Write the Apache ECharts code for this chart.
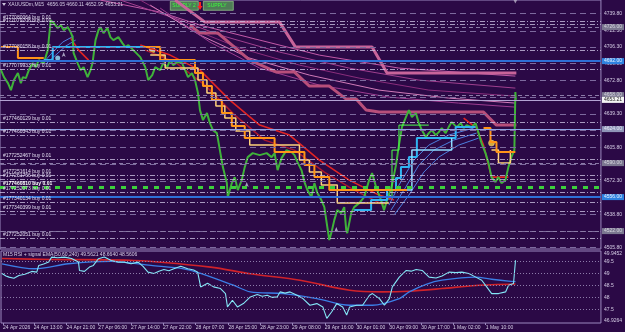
<!DOCTYPE html>
<html>
<head>
<meta charset="utf-8">
<title>XAUUSDm M15</title>
<script src="https://cdn.jsdelivr.net/npm/echarts@6/dist/echarts.min.js"></script>
<style>
  html, body { margin: 0; padding: 0; background: #2b0946; }
  #chart { width: 625px; height: 332px; }
</style>
</head>
<body>
<div id="chart"></div>
<script>
// ---- data (bar index, price) ----
var priceData = [
  [0,4683],[3,4676],[7,4670],[10,4663],[13,4673],[17,4680],[20,4670],[22,4676],[25,4675],[28,4683],
  [32,4690],[35,4686],[38,4693],[43,4690],[47,4703],[49,4723],[50,4733],[53,4730],[57,4725],[60,4728],
  [63,4723],[67,4726],[70,4721],[72,4716],[73,4700],[77,4690],[80,4683],[83,4686],[87,4676],[90,4683],
  [92,4690],[95,4713],[98,4723],[100,4726],[103,4720],[107,4725],[110,4716],[113,4713],[118,4716],[122,4710],
  [125,4706],[128,4708],[133,4703],[140,4696],[145,4686],[148,4673],[152,4678],[155,4686],[160,4683],[163,4690],
  [167,4686],[170,4693],[173,4688],[177,4691],[182,4690],[185,4683],[188,4676],[192,4680],[195,4673],[198,4660],
  [200,4643],[203,4633],[207,4640],[210,4630],[213,4623],[217,4620],[220,4603],[223,4586],[227,4570],[228,4556],
  [232,4570],[235,4576],[238,4563],[242,4573],[245,4586],[248,4596],[253,4600],[260,4598],[267,4600],[272,4596],
  [275,4600],[278,4583],[282,4595],[287,4603],[292,4601],[295,4598],[298,4591],[302,4583],[305,4571],[308,4563],
  [312,4556],[315,4570],[318,4560],[322,4553],[325,4546],[328,4526],[330,4513],[332,4520],[335,4533],[338,4543],
  [342,4540],[345,4546],[347,4523],[348,4520],[352,4540],[355,4546],[360,4550],[365,4556],[370,4573],[373,4580],
  [377,4566],[382,4553],[385,4543],[388,4553],[393,4568],[397,4588],[400,4608],[403,4626],[407,4636],[410,4643],
  [413,4636],[417,4640],[420,4630],[423,4623],[427,4616],[430,4620],[433,4623],[437,4618],[440,4621],[443,4625],
  [447,4620],[450,4626],[453,4631],[458,4626],[462,4630],[465,4625],[468,4628],[473,4626],[477,4630],[480,4620],
  [483,4610],[487,4600],[490,4590],[493,4576],[497,4571],[500,4576],[503,4570],[507,4573],[510,4586],[513,4596],
  [516,4603],[517,4661],[517.5,4653.21]
];

var pinkA = [[175,4753],[205,4731],[280,4731],[296,4706],[373,4706],[388,4680],[518,4680]];
var pinkB = [[190,4728],[200,4720],[218,4720],[250,4693],[277,4681],[295,4681],[310,4667],[330,4667],
  [347,4654],[357,4654],[367,4643],[380,4641],[485,4641],[498,4628],[518,4628]];

var fanLines = [
  [[100,4753],[160,4741],[200,4728],[260,4713],[320,4698],[400,4685],[517,4677]],
  [[120,4753],[180,4733],[220,4718],[280,4701],[350,4685],[420,4673],[517,4665]],
  [[140,4753],[190,4725],[240,4705],[300,4688],[360,4675],[430,4663],[517,4657]],
  [[150,4748],[200,4718],[250,4695],[310,4678],[380,4663],[450,4655],[517,4650]],
  [[160,4745],[210,4711],[260,4685],[320,4668],[390,4656],[460,4650],[517,4646]]
];

var orangeSegs = [
  [[0,4706],[17,4706],[17,4695],[43,4695]],
  [[143,4706],[160,4706],[160,4693],[195,4693],[195,4680],[203,4680],[203,4667],[212,4667],[212,4653],
   [222,4653],[222,4640],[232,4640],[232,4627],[245,4627],[245,4615],[275,4615],[275,4601],[305,4601],
   [305,4588],[315,4588],[315,4576],[330,4576],[330,4563],[408,4563]],
  [[485,4625],[492,4625],[492,4611],[498,4611],[498,4601],[517,4601]]
];
var yellowSegs = [
  [[150,4698],[165,4698],[165,4685],[198,4685],[198,4673],[207,4673],[207,4660],[216,4660],[216,4647],
   [225,4647],[225,4635],[236,4635],[236,4622],[250,4622],[250,4608],[300,4608],[300,4593],[310,4593],
   [310,4581],[322,4581],[322,4568],[338,4568],[338,4550],[390,4550]],
  [[493,4603],[500,4603],[500,4590],[512,4590],[512,4603]]
];
var redSegs = [
  [[140,4708],[170,4698],[200,4683],[230,4653],[260,4628],[290,4618],[320,4593],[350,4573],[380,4558],[395,4553]],
  [[465,4635],[478,4625],[485,4608],[493,4576],[510,4576]],
  [[70,4715],[78,4703],[88,4693]]
];
var darkRedSegs = [
  [[145,4703],[175,4691],[205,4668],[235,4638],[265,4613],[295,4603],[325,4581],[355,4563],[385,4548]]
];
var cyanSegs = [
  [[43,4693],[52,4693],[52,4706],[143,4706]],
  [[355,4543],[372,4543],[372,4553],[388,4553],[388,4563],[397,4563],[397,4575],[402,4575],[402,4586],
   [410,4586],[410,4596],[418,4596],[418,4615],[457,4615],[457,4626],[477,4626]]
];
var lightCyanSegs = [
  [[405,4563],[413,4563],[413,4603],[453,4603],[453,4615]]
];
var blueFan = [
  [[390,4548],[400,4568],[415,4593],[430,4608],[450,4618],[475,4625]],
  [[392,4543],[405,4563],[420,4588],[435,4603],[455,4613],[478,4620]],
  [[395,4538],[410,4558],[425,4581],[440,4596],[460,4608],[480,4615]],
  [[43,4691],[52,4701],[62,4711],[73,4717]],
  [[45,4689],[55,4698],[65,4707],[75,4713]]
];
var limeSegs = [
  [[393,4556],[393,4603],[400,4603],[400,4628],[430,4628]]
];
var yellowDots = [[152,4703],[493,4610]];
var cyanDots = [[390,4556],[57,4695]];
var downArrows = [[163,4696]];
var upArrows = [[63,4701],[247,4571],[337,4526]];

// levels
var gridLevels = [4739.8,4722.3,4706.3,4689.8,4672.8,4656.05,4639.3,4622.55,4605.8,4589.05,4572.3,4555.55,4538.8,4522.05,4505.8];
var tickLabels = [4739.8,4722.3,4706.3,4689.8,4672.8,4639.3,4605.8,4572.3,4538.8,4505.8];
var greyTags = [4726, 4658, 4590, 4522];
var blueTags = [4692, 4556];
var lightTag = 4624;
var greenLevel = 4566;
var bidPrice = 4653.21;

var orderIds = ['#177080064','#177079708','#177080158','#177079933','#177460129','#177460343','#177252467',
  '#177251614','#177251766','#177460810','#177252073','#177340134','#177340399','#177252051'];
var orderPrices = [4732.1,4729.1,4703.1,4684.1,4631.1,4618.1,4594.1,4578.1,4574.1,4566,4561.1,4551.1,4542.1,4515.1];
var selectedOrder = '#177460810';

// RSI panel (bar index, value)
var rsiData = [
  [0,49.0],[4,48.9],[7,48.85],[12,48.8],[17,48.92],[23,48.97],[30,49.09],[35,49.06],[37,49.34],[42,49.4],
  [47,49.48],[50,49.69],[56,49.66],[63,49.69],[70,49.63],[77,49.48],[78,49.13],[83,49.09],[88,49.27],[92,49.34],
  [97,49.62],[103,49.69],[110,49.55],[117,49.48],[123,49.48],[130,49.41],[137,49.48],[142,49.3],[147,49.06],[153,49.0],
  [158,49.1],[163,49.17],[168,49.12],[173,49.2],[180,49.31],[187,49.2],[193,49.15],[197,49.06],[200,48.44],[207,48.59],
  [213,48.44],[220,48.37],[225,48.16],[227,47.6],[232,47.88],[237,47.6],[243,47.74],[250,48.02],[257,48.12],[262,48.05],
  [267,48.09],[272,48.0],[277,48.02],[280,48.23],[285,48.18],[290,48.23],[297,48.09],[303,47.95],[310,47.67],[317,47.74],
  [323,47.6],[327,47.12],[332,47.4],[337,47.74],[343,47.6],[347,47.26],[350,47.6],[357,47.67],[363,47.67],[370,48.09],
  [373,48.16],[380,47.95],[385,47.67],[390,47.95],[393,48.44],[400,48.85],[407,49.13],[412,49.1],[417,49.17],[423,49.13],
  [430,48.85],[437,48.81],[443,48.9],[450,49.06],[457,49.04],[463,49.06],[470,49.0],[477,48.85],[483,48.72],[488,48.44],
  [493,48.16],[500,48.16],[507,48.23],[510,48.51],[512,48.58],[515,48.58],[517,49.56]
];
var signalData = [[0,49.41],[33,49.2],[67,49.41],[110,49.51],[150,49.34],[183,49.2],[200,49.01],[233,48.51],
  [250,48.23],[283,48.16],[317,47.95],[350,47.67],[373,47.67],[400,47.95],[410,48.23],[427,48.55],[443,48.72],
  [477,48.85],[493,48.76],[510,48.68],[517,48.66]];
var slowData = [[0,49.63],[50,49.59],[133,49.55],[210,49.27],[250,48.99],[300,48.72],[350,48.3],[383,48.23],
  [410,48.26],[443,48.37],[477,48.5],[517,48.56]];
var rsiLevels = [49.5, 49, 48.5, 48, 47.5];
var rsiLabels = [46.9264, 47.5, 48, 48.5, 49, 49.5, 49.9452];

var timePos = [1,32,65,97,130,162,195,228,260,292,325,357,390,422,454,487];
var timeLabels = ['24 Apr 2026','24 Apr 13:00','24 Apr 21:00','27 Apr 06:00','27 Apr 14:00','27 Apr 22:00',
  '28 Apr 07:00','28 Apr 15:00','28 Apr 23:00','29 Apr 08:00','29 Apr 16:00','30 Apr 01:00','30 Apr 09:00',
  '30 Apr 17:00','1 May 02:00','1 May 10:00'];

var FONT = 'Liberation Sans';
var TXT = '#d6cee6';
var FRAME = '#9c89bf';

var chart = echarts.init(document.getElementById('chart'), null, { renderer: 'canvas' });

function lineSeries(name, data, color, width, extra) {
  var s = {
    name: name, type: 'line', xAxisIndex: 0, yAxisIndex: 0,
    data: data, showSymbol: false, symbol: 'none', silent: true,
    lineStyle: { color: color, width: width },
    animation: false
  };
  if (extra) Object.assign(s, extra);
  return s;
}
function segSeries(name, segs, color, width, extra) {
  return segs.map(function (seg, i) { return lineSeries(name + i, seg, color, width, extra); });
}

// horizontal levels as markLines
var levelLines = [];
gridLevels.forEach(function (p) {
  levelLines.push({ yAxis: p, lineStyle: { type: [6, 4], color: '#7d6a9e', width: 1 }, label: { show: false } });
});
greyTags.forEach(function (p) {
  levelLines.push({ yAxis: p, lineStyle: { type: [4, 3], color: '#8a7aa6', width: 1 },
    label: { show: true, position: 'end', formatter: p.toFixed(2), backgroundColor: '#7b7790', color: '#d8d8e0', padding: [1, 2, 0, 2], distance: 1 } });
});
orderIds.forEach(function (id, i) {
  var sel = id === selectedOrder;
  levelLines.push({ yAxis: orderPrices[i],
    lineStyle: { type: [5, 2, 1, 2], color: '#c9bfe0', width: sel ? 0 : 0.8 },
    label: { show: true, position: 'insideStartTop', formatter: id + ' buy 0.01', distance: [3, 1],
      color: sel ? '#ffffff' : '#e2dcf0', fontWeight: sel ? 'bold' : 'normal' } });
});
levelLines.push({ yAxis: greenLevel, lineStyle: { type: [5, 6], color: '#3ccf3c', width: 3 }, label: { show: false } });
levelLines.push({ yAxis: lightTag, lineStyle: { type: 'solid', color: '#8ea4e6', width: 1 },
  label: { show: true, position: 'end', formatter: lightTag.toFixed(2), backgroundColor: '#8f95b8', color: '#e6e8f4', padding: [1, 2, 0, 2], distance: 1 } });
blueTags.forEach(function (p) {
  levelLines.push({ yAxis: p, lineStyle: { type: 'solid', color: '#2e6fd6', width: 2 },
    label: { show: true, position: 'end', formatter: p.toFixed(2), backgroundColor: '#2f82e0', color: '#e8f2ff', padding: [1, 2, 0, 2], distance: 1 } });
});
levelLines.push({ yAxis: bidPrice, lineStyle: { type: 'solid', color: '#b3a3d3', width: 1 },
  label: { show: true, position: 'end', formatter: bidPrice.toFixed(2), backgroundColor: '#f4f4f4', color: '#1a1a1a', padding: [1, 2, 0, 2], distance: 1 } });

var series = [];
series.push(lineSeries('levels', [], 'transparent', 0, {
  markLine: { silent: true, symbol: ['none', 'none'], animation: false,
    label: { fontSize: 5, fontFamily: FONT }, data: levelLines }
}));
var fanColors = ['#c35aa8', '#a0408f', '#8a2e7c', '#d07ab8', '#9c3c90'];
fanLines.forEach(function (f, i) { series.push(lineSeries('fan' + i, f, fanColors[i], 1)); });
series.push(lineSeries('pinkA', pinkA, '#c8649a', 3));
series.push(lineSeries('pinkB', pinkB, '#b84f7a', 3));
series = series.concat(segSeries('dred', darkRedSegs, '#a8182e', 1.5));
series = series.concat(segSeries('red', redSegs, '#e02424', 1.6));
series = series.concat(segSeries('bfan', blueFan, '#4c7fe0', 1));
series.push(lineSeries('price', priceData, '#3fb23a', 2));
series = series.concat(segSeries('cyan', cyanSegs, '#2fb4f2', 2));
series = series.concat(segSeries('lcyan', lightCyanSegs, '#8fdcff', 1.5));
series = series.concat(segSeries('yellow', yellowSegs, '#ffd27a', 1.5));
series = series.concat(segSeries('orange', orangeSegs, '#ff9418', 2));
series = series.concat(segSeries('lime', limeSegs, '#4dff4d', 1));
series.push({ type: 'scatter', xAxisIndex: 0, yAxisIndex: 0, data: yellowDots, symbolSize: 6, silent: true, animation: false,
  itemStyle: { color: '#ffd23a', borderColor: '#fff3b0', borderWidth: 0.5 } });
series.push({ type: 'scatter', xAxisIndex: 0, yAxisIndex: 0, data: cyanDots, symbolSize: 5, silent: true, animation: false,
  itemStyle: { color: '#9fe8ff' } });
series.push({ type: 'scatter', xAxisIndex: 0, yAxisIndex: 0, data: downArrows, symbol: 'triangle', symbolRotate: 180, symbolSize: 4,
  silent: true, animation: false, itemStyle: { color: '#ff9418' } });
series.push({ type: 'scatter', xAxisIndex: 0, yAxisIndex: 0, data: upArrows, symbol: 'arrow', symbolSize: [3, 5],
  silent: true, animation: false, itemStyle: { color: '#c8c8e0' } });
series.push({ type: 'scatter', xAxisIndex: 0, yAxisIndex: 0, data: [[517, 4751.5]], symbol: 'triangle', symbolRotate: 180, symbolSize: 4,
  silent: true, animation: false, itemStyle: { color: '#b8b0c8' } });

// RSI panel
series.push({ type: 'line', xAxisIndex: 1, yAxisIndex: 1, data: slowData, smooth: 0.3, symbol: 'none', silent: true, animation: false,
  lineStyle: { color: '#d0222a', width: 1.6 },
  markLine: { silent: true, symbol: ['none', 'none'], animation: false, label: { show: false },
    lineStyle: { type: [1, 2], color: '#8d7caa', width: 1 },
    data: rsiLevels.map(function (v) { return { yAxis: v }; }) } });
series.push({ type: 'line', xAxisIndex: 1, yAxisIndex: 1, data: signalData, smooth: 0.3, symbol: 'none', silent: true, animation: false,
  lineStyle: { color: '#3b7ee6', width: 1.3 } });
series.push({ type: 'line', xAxisIndex: 1, yAxisIndex: 1, data: rsiData, symbol: 'none', silent: true, animation: false,
  lineStyle: { color: '#84e6f6', width: 1.1 } });

var option = {
  backgroundColor: '#2b0946',
  animation: false,
  textStyle: { fontFamily: FONT },
  title: [
    { text: 'XAUUSDm,M15  4656.05 4660.11 4652.95 4653.21', left: 8, top: 2, padding: 0,
      textStyle: { fontSize: 5, color: TXT, fontWeight: 'normal', fontFamily: FONT } },
    { text: 'M15 RSI + signal EMA(50,60,240) 49.5621 48.6640 48.5606', left: 3, top: 252, padding: 0,
      textStyle: { fontSize: 5, color: TXT, fontWeight: 'normal', fontFamily: FONT } }
  ],
  grid: [
    { left: -1, right: 22, top: 0, height: 249, show: true, borderColor: FRAME, borderWidth: 1, backgroundColor: 'transparent' },
    { left: -1, right: 22, top: 251, height: 72, show: true, borderColor: FRAME, borderWidth: 1, backgroundColor: 'transparent' }
  ],
  xAxis: [
    { type: 'value', gridIndex: 0, min: -1, max: 603, show: false },
    { type: 'value', gridIndex: 1, min: -1, max: 603, position: 'bottom',
      axisLine: { show: false }, splitLine: { show: false },
      axisTick: { show: true, length: 2, customValues: timePos, lineStyle: { color: FRAME } },
      axisLabel: { customValues: timePos, align: 'left', margin: 2, fontSize: 5, color: TXT, fontFamily: FONT,
        formatter: function (v) { var i = timePos.indexOf(v); return i >= 0 ? timeLabels[i] : ''; } } }
  ],
  yAxis: [
    { type: 'value', gridIndex: 0, position: 'right', min: 4504.1, max: 4753.1,
      axisLine: { show: false }, axisTick: { show: false }, splitLine: { show: false },
      axisLabel: { customValues: tickLabels, margin: 3, fontSize: 5, color: TXT, fontFamily: FONT,
        formatter: function (v) { return v.toFixed(2); } } },
    { type: 'value', gridIndex: 1, position: 'right', min: 46.9264, max: 49.9452,
      axisLine: { show: false }, axisTick: { show: false }, splitLine: { show: false },
      axisLabel: { customValues: rsiLabels, margin: 3, fontSize: 5, color: TXT, fontFamily: FONT,
        verticalAlignMinLabel: 'bottom', verticalAlignMaxLabel: 'top',
        formatter: function (v) { return String(v); } } }
  ],
  graphic: [
    { type: 'polygon', shape: { points: [[2, 3], [6, 3], [4, 6]] }, style: { fill: '#c8c0d8' } },
    { type: 'group', left: 170, top: 1, children: [
      { type: 'rect', shape: { x: 0, y: 0, width: 28, height: 9 }, style: { fill: '#4f7c56', stroke: '#a7e39a', lineWidth: 0.6 } },
      { type: 'text', style: { x: 2, y: 2, text: 'SUPPLY 2', fill: '#3dff3d', font: '5px "Liberation Sans"' } }
    ] },
    { type: 'polygon', shape: { points: [[199, 2], [201, 2], [201, 6], [202.5, 6], [200, 10], [197.5, 6], [199, 6]] }, style: { fill: '#ff2020' } },
    { type: 'group', left: 203, top: 1, children: [
      { type: 'rect', shape: { x: 0, y: 0, width: 30, height: 9 }, style: { fill: '#4f7c56', stroke: '#a7e39a', lineWidth: 0.6 } },
      { type: 'text', style: { x: 4, y: 2, text: 'SUPPLY', fill: '#3dff3d', font: '5px "Liberation Sans"' } }
    ] }
  ],
  series: series
};

chart.setOption(option);
</script>
</body>
</html>
